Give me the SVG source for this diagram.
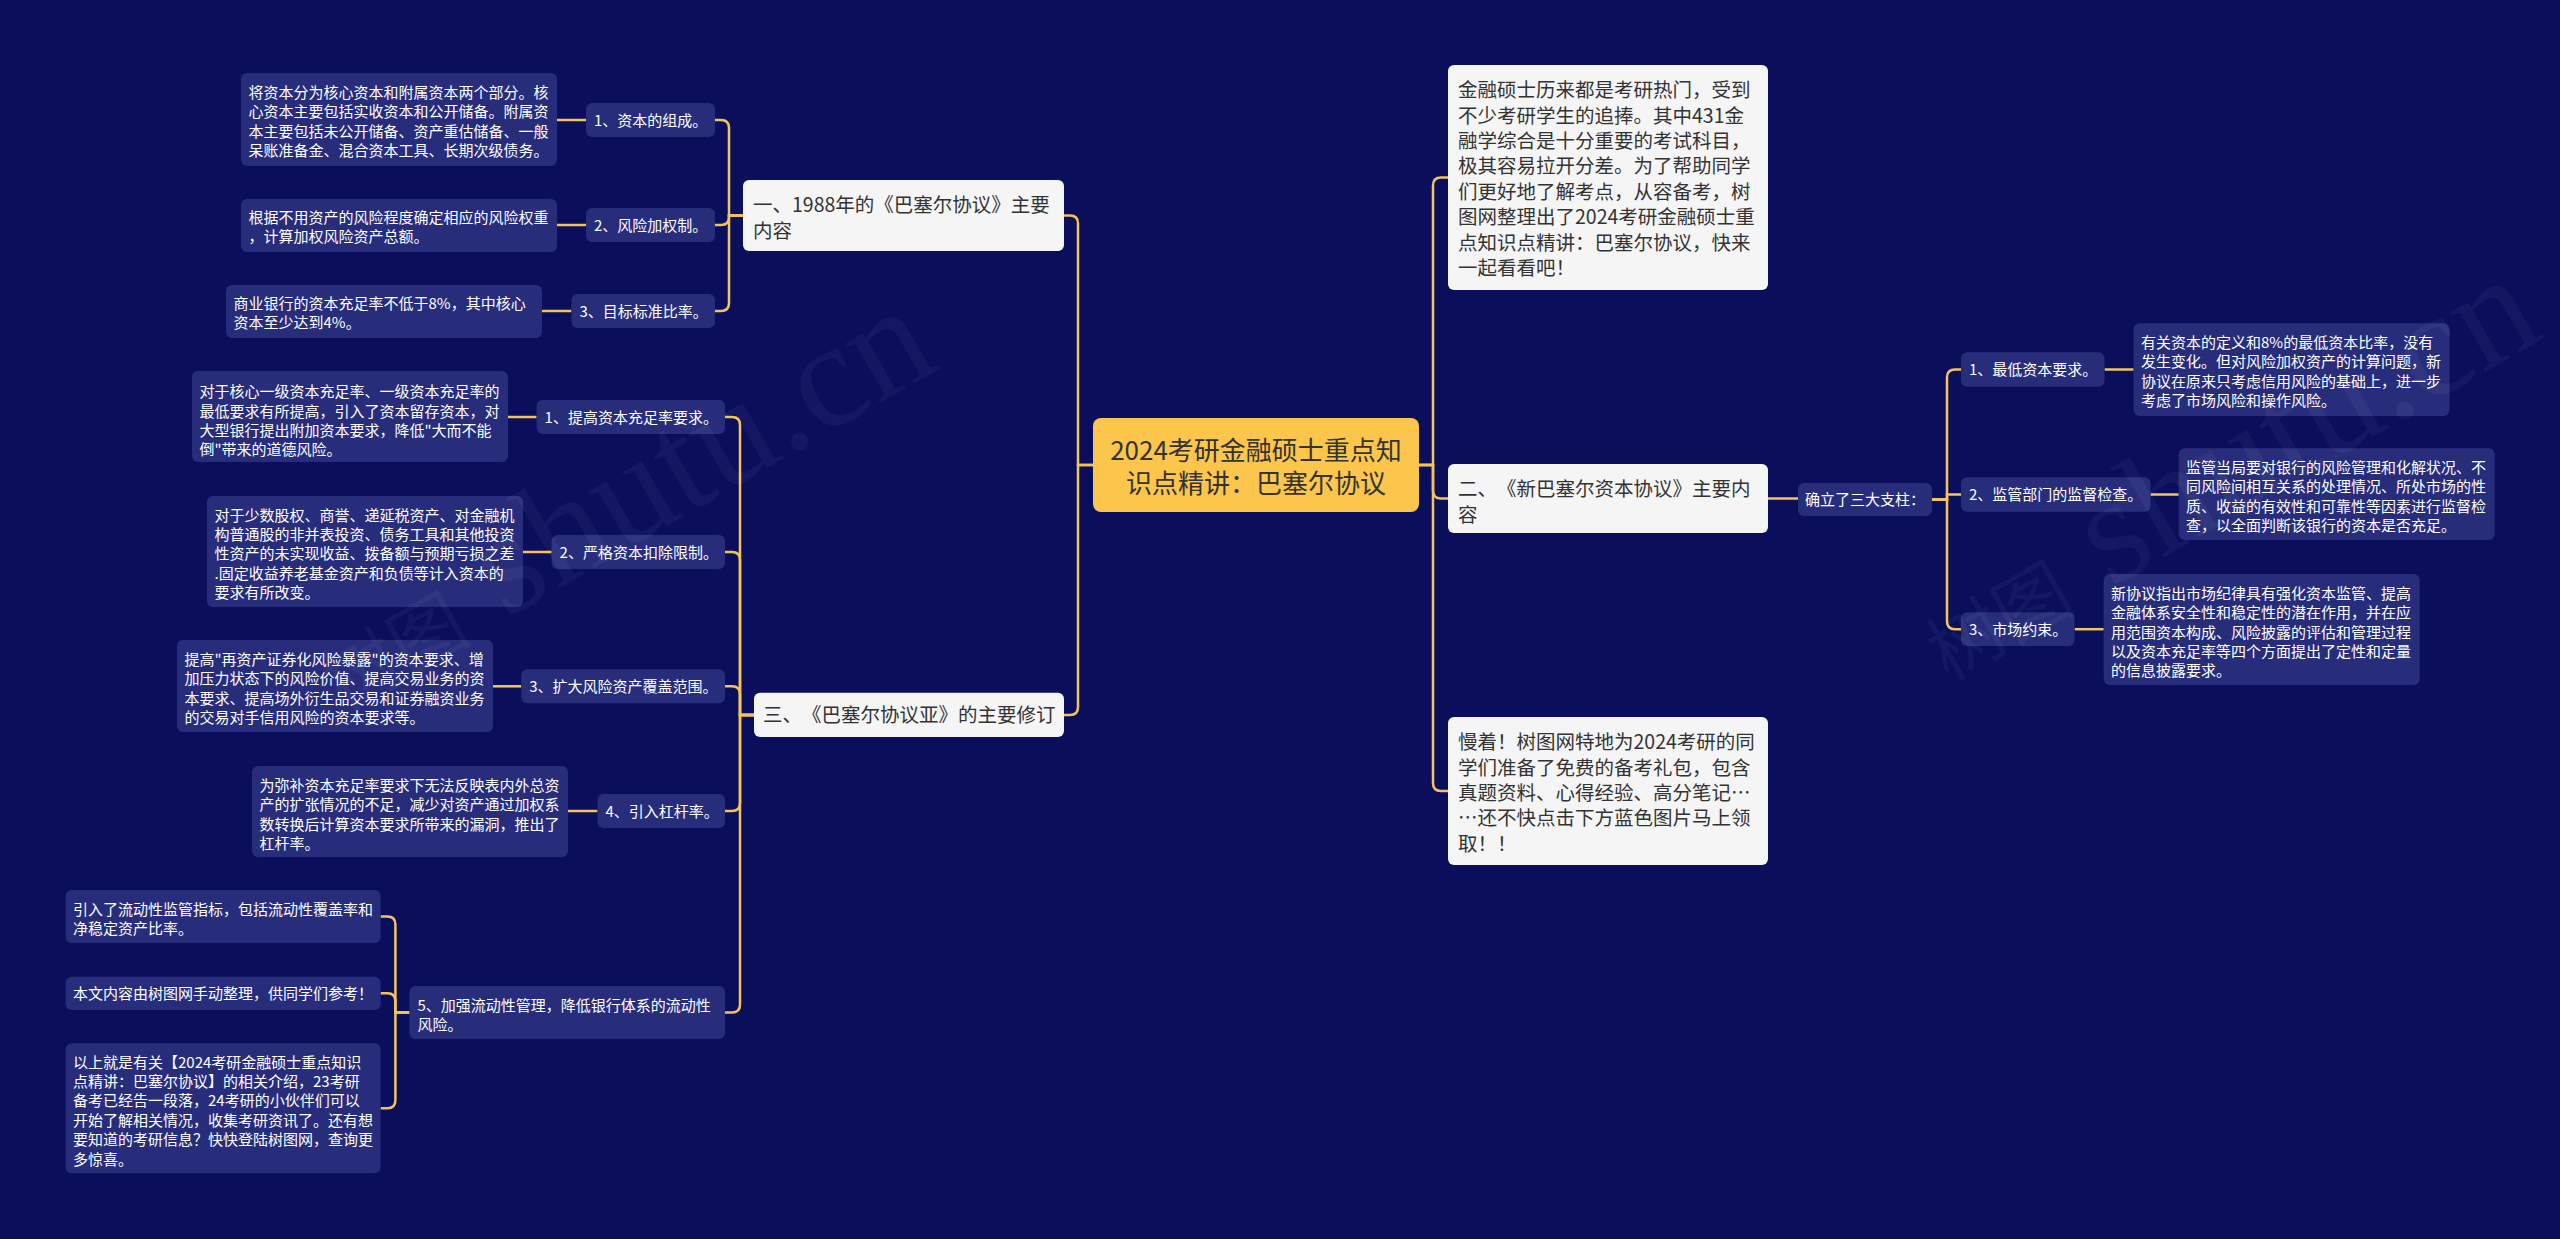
<svg xmlns="http://www.w3.org/2000/svg" width="2560" height="1239" viewBox="0 0 2560 1239">
<style>
text{font-family:"Noto Sans CJK SC","Noto Sans",sans-serif;text-spacing-trim:space-all}
.bg{fill:#0A0E5B}
.dk rect{fill:#282D7B}
.dk text{fill:#FFFFFF;font-size:15px}
.wt rect{fill:#F5F5F5}
.wt text{fill:#333333;font-size:19.5px}
.ct rect{fill:#FBC64B}
.ct text{fill:#333333;font-size:26px;text-anchor:middle}
.conn path{fill:none;stroke:#F2C55C;stroke-width:2.5}
.wm{fill:#FFFFFF;fill-opacity:0.045;font-size:150px;font-family:"Liberation Serif","Noto Sans CJK SC",serif}
.wm .cj{font-size:75px;font-family:"Noto Sans CJK SC",sans-serif}
</style>
<rect class="bg" x="0" y="0" width="2560" height="1239"/>

<g id="connectors" class="conn">
<path d="M1093 465 H1078 V223.5 Q1078 215.5 1070 215.5 H1064"/>
<path d="M1093 465 H1078 V707 Q1078 715 1070 715 H1064"/>
<path d="M1419 465 H1433 V185.5 Q1433 177.5 1441 177.5 H1448"/>
<path d="M1419 465 H1433 V490.5 Q1433 498.5 1441 498.5 H1448"/>
<path d="M1419 465 H1433 V783 Q1433 791 1441 791 H1448"/>
<path d="M743 215.5 H729 V128 Q729 120 721 120 H715"/>
<path d="M743 215.5 H729 V217 Q729 225 721 225 H715"/>
<path d="M743 215.5 H729 V303 Q729 311 721 311 H715"/>
<path d="M557 120 H586"/>
<path d="M557 225 H586"/>
<path d="M542 311 H571.5"/>
<path d="M754 715 H740 V425 Q740 417 732 417 H725"/>
<path d="M754 715 H740 V560 Q740 552 732 552 H725"/>
<path d="M754 715 H740 V694.3 Q740 686.3 732 686.3 H725"/>
<path d="M754 715 H740 V803 Q740 811 732 811 H725"/>
<path d="M754 715 H740 V1004.6 Q740 1012.6 732 1012.6 H725"/>
<path d="M507.5 417 H536.6"/>
<path d="M522 552 H551.6"/>
<path d="M493 686.3 H521.3"/>
<path d="M568 811 H597.5"/>
<path d="M409.4 1012.6 H395.4 V924.6 Q395.4 916.6 387.4 916.6 H380.6"/>
<path d="M409.4 1012.6 H395.4 V1001.3 Q395.4 993.3 387.4 993.3 H380.6"/>
<path d="M409.4 1012.6 H395.4 V1100.3 Q395.4 1108.3 387.4 1108.3 H380.6"/>
<path d="M1768 498.5 H1798"/>
<path d="M1932 499.5 H1947 V377.5 Q1947 369.5 1955 369.5 H1961"/>
<path d="M1932 499.5 H1947 V494.5 H1961"/>
<path d="M1932 499.5 H1947 V621.2 Q1947 629.2 1955 629.2 H1961"/>
<path d="M2104.5 369.5 H2133.6"/>
<path d="M2150.5 494.5 H2178.7"/>
<path d="M2074.6 629.2 H2103.7"/>
</g>

<g id="center" class="ct">
<rect x="1093" y="418" width="326" height="94" rx="8"/>
<text x="1256" y="459.6">2024考研金融硕士重点知</text>
<text x="1256" y="492.6">识点精讲：巴塞尔协议</text>
</g>

<g id="n1" class="wt">
<rect x="743" y="180" width="321" height="71" rx="6"/>
<text x="753" y="212.2">一、1988年的《巴塞尔协议》主要</text>
<text x="753" y="237.6">内容</text>
</g>
<g id="n1-1" class="dk">
<rect x="586" y="103" width="129" height="34" rx="6"/>
<text x="594" y="126">1、资本的组成。</text>
</g>
<g id="n1-1-1" class="dk">
<rect x="241" y="73" width="316" height="93" rx="6"/>
<text x="248.5" y="97.8">将资本分为核心资本和附属资本两个部分。核</text>
<text x="248.5" y="117.2">心资本主要包括实收资本和公开储备。附属资</text>
<text x="248.5" y="136.6">本主要包括未公开储备、资产重估储备、一般</text>
<text x="248.5" y="156">呆账准备金、混合资本工具、长期次级债务。</text>
</g>
<g id="n1-2" class="dk">
<rect x="586" y="208" width="129" height="34" rx="6"/>
<text x="594" y="230.5">2、风险加权制。</text>
</g>
<g id="n1-2-1" class="dk">
<rect x="241" y="199" width="316" height="53" rx="6"/>
<text x="248.5" y="222.5">根据不用资产的风险程度确定相应的风险权重</text>
<text x="248.5" y="241.9">，计算加权风险资产总额。</text>
</g>
<g id="n1-3" class="dk">
<rect x="571.5" y="294" width="143.5" height="34" rx="6"/>
<text x="579.5" y="316.5">3、目标标准比率。</text>
</g>
<g id="n1-3-1" class="dk">
<rect x="226" y="285" width="316" height="53" rx="6"/>
<text x="233.5" y="309">商业银行的资本充足率不低于8%，其中核心</text>
<text x="233.5" y="328.4">资本至少达到4%。</text>
</g>

<g id="n3" class="wt">
<rect x="754" y="692.7" width="310" height="44.3" rx="6"/>
<text x="763" y="722.2">三、《巴塞尔协议亚》的主要修订</text>
</g>
<g id="n3-1" class="dk">
<rect x="536.6" y="400" width="188.4" height="34" rx="6"/>
<text x="544.6" y="422.5">1、提高资本充足率要求。</text>
</g>
<g id="n3-1-1" class="dk">
<rect x="192" y="371" width="316" height="91" rx="6"/>
<text x="199.5" y="397.2">对于核心一级资本充足率、一级资本充足率的</text>
<text x="199.5" y="416.6">最低要求有所提高，引入了资本留存资本，对</text>
<text x="199.5" y="436">大型银行提出附加资本要求，降低"大而不能</text>
<text x="199.5" y="455.4">倒"带来的道德风险。</text>
</g>
<g id="n3-2" class="dk">
<rect x="551.6" y="535" width="173.4" height="34" rx="6"/>
<text x="559.6" y="557.5">2、严格资本扣除限制。</text>
</g>
<g id="n3-2-1" class="dk">
<rect x="207" y="496" width="316" height="111" rx="6"/>
<text x="214.5" y="520.5">对于少数股权、商誉、递延税资产、对金融机</text>
<text x="214.5" y="539.9">构普通股的非并表投资、债务工具和其他投资</text>
<text x="214.5" y="559.3">性资产的未实现收益、拨备额与预期亏损之差</text>
<text x="214.5" y="578.7">.固定收益养老基金资产和负债等计入资本的</text>
<text x="214.5" y="598.1">要求有所改变。</text>
</g>
<g id="n3-3" class="dk">
<rect x="521.3" y="669.3" width="203.7" height="34" rx="6"/>
<text x="529.3" y="691.8">3、扩大风险资产覆盖范围。</text>
</g>
<g id="n3-3-1" class="dk">
<rect x="177" y="640" width="316" height="92" rx="6"/>
<text x="184.5" y="664.8">提高"再资产证券化风险暴露"的资本要求、增</text>
<text x="184.5" y="684.2">加压力状态下的风险价值、提高交易业务的资</text>
<text x="184.5" y="703.6">本要求、提高场外衍生品交易和证券融资业务</text>
<text x="184.5" y="723">的交易对手信用风险的资本要求等。</text>
</g>
<g id="n3-4" class="dk">
<rect x="597.5" y="794" width="127.5" height="34" rx="6"/>
<text x="605.5" y="816.5">4、引入杠杆率。</text>
</g>
<g id="n3-4-1" class="dk">
<rect x="252" y="766" width="316" height="91" rx="6"/>
<text x="259.5" y="790.7">为弥补资本充足率要求下无法反映表内外总资</text>
<text x="259.5" y="810.1">产的扩张情况的不足，减少对资产通过加权系</text>
<text x="259.5" y="829.5">数转换后计算资本要求所带来的漏洞，推出了</text>
<text x="259.5" y="848.9">杠杆率。</text>
</g>
<g id="n3-5" class="dk">
<rect x="409.4" y="986" width="315.6" height="53" rx="6"/>
<text x="417.4" y="1010.6">5、加强流动性管理，降低银行体系的流动性</text>
<text x="417.4" y="1030">风险。</text>
</g>
<g id="n3-5-1" class="dk">
<rect x="65.6" y="890" width="315" height="53" rx="6"/>
<text x="73" y="914.7">引入了流动性监管指标，包括流动性覆盖率和</text>
<text x="73" y="934.1">净稳定资产比率。</text>
</g>
<g id="n3-5-2" class="dk">
<rect x="65.6" y="976.7" width="315" height="33.3" rx="6"/>
<text x="73" y="998.8">本文内容由树图网手动整理，供同学们参考！</text>
</g>
<g id="n3-5-3" class="dk">
<rect x="65.6" y="1043.3" width="315" height="130" rx="6"/>
<text x="73" y="1067.6">以上就是有关【2024考研金融硕士重点知识</text>
<text x="73" y="1087">点精讲：巴塞尔协议】的相关介绍，23考研</text>
<text x="73" y="1106.4">备考已经告一段落，24考研的小伙伴们可以</text>
<text x="73" y="1125.8">开始了解相关情况，收集考研资讯了。还有想</text>
<text x="73" y="1145.2">要知道的考研信息？快快登陆树图网，查询更</text>
<text x="73" y="1164.6">多惊喜。</text>
</g>

<g id="n0" class="wt">
<rect x="1448" y="65" width="320" height="225" rx="6"/>
<text x="1458" y="97.2">金融硕士历来都是考研热门，受到</text>
<text x="1458" y="122.6">不少考研学生的追捧。其中431金</text>
<text x="1458" y="148">融学综合是十分重要的考试科目，</text>
<text x="1458" y="173.4">极其容易拉开分差。为了帮助同学</text>
<text x="1458" y="198.8">们更好地了解考点，从容备考，树</text>
<text x="1458" y="224.2">图网整理出了2024考研金融硕士重</text>
<text x="1458" y="249.6">点知识点精讲：巴塞尔协议，快来</text>
<text x="1458" y="275">一起看看吧！</text>
</g>
<g id="n2" class="wt">
<rect x="1448" y="464" width="320" height="69" rx="6"/>
<text x="1458" y="496.2">二、《新巴塞尔资本协议》主要内</text>
<text x="1458" y="521.6">容</text>
</g>
<g id="n2-0" class="dk">
<rect x="1798" y="483" width="134" height="33" rx="6"/>
<text x="1805" y="505">确立了三大支柱：</text>
</g>
<g id="n2-1" class="dk">
<rect x="1961" y="352.3" width="143.5" height="34.4" rx="6"/>
<text x="1969" y="375">1、最低资本要求。</text>
</g>
<g id="n2-1-1" class="dk">
<rect x="2133.6" y="323.3" width="316" height="92.7" rx="6"/>
<text x="2141" y="348">有关资本的定义和8%的最低资本比率，没有</text>
<text x="2141" y="367.4">发生变化。但对风险加权资产的计算问题，新</text>
<text x="2141" y="386.8">协议在原来只考虑信用风险的基础上，进一步</text>
<text x="2141" y="406.2">考虑了市场风险和操作风险。</text>
</g>
<g id="n2-2" class="dk">
<rect x="1961" y="477.3" width="189.5" height="34.4" rx="6"/>
<text x="1969" y="500">2、监管部门的监督检查。</text>
</g>
<g id="n2-2-1" class="dk">
<rect x="2178.7" y="448.3" width="316" height="91.7" rx="6"/>
<text x="2186" y="473">监管当局要对银行的风险管理和化解状况、不</text>
<text x="2186" y="492.4">同风险间相互关系的处理情况、所处市场的性</text>
<text x="2186" y="511.8">质、收益的有效性和可靠性等因素进行监督检</text>
<text x="2186" y="531.2">查，以全面判断该银行的资本是否充足。</text>
</g>
<g id="n2-3" class="dk">
<rect x="1961" y="612.3" width="113.6" height="33.7" rx="6"/>
<text x="1969" y="634.5">3、市场约束。</text>
</g>
<g id="n2-3-1" class="dk">
<rect x="2103.7" y="574" width="316" height="111" rx="6"/>
<text x="2111" y="598.7">新协议指出市场纪律具有强化资本监管、提高</text>
<text x="2111" y="618.1">金融体系安全性和稳定性的潜在作用，并在应</text>
<text x="2111" y="637.5">用范围资本构成、风险披露的评估和管理过程</text>
<text x="2111" y="656.9">以及资本充足率等四个方面提出了定性和定量</text>
<text x="2111" y="676.3">的信息披露要求。</text>
</g>

<g id="n4" class="wt">
<rect x="1448" y="717" width="320" height="148" rx="6"/>
<text x="1458" y="749.2">慢着！树图网特地为2024考研的同</text>
<text x="1458" y="774.6">学们准备了免费的备考礼包，包含</text>
<text x="1458" y="800">真题资料、心得经验、高分笔记…</text>
<text x="1458" y="825.4">…还不快点击下方蓝色图片马上领</text>
<text x="1458" y="850.8">取！！</text>
</g>

<g id="watermark">
<text class="wm" transform="translate(343,713) rotate(-30)"><tspan class="cj">树图</tspan> shutu.cn</text>
<text class="wm" transform="translate(1948,682) rotate(-30)"><tspan class="cj">树图</tspan> shutu.cn</text>
</g>
</svg>
